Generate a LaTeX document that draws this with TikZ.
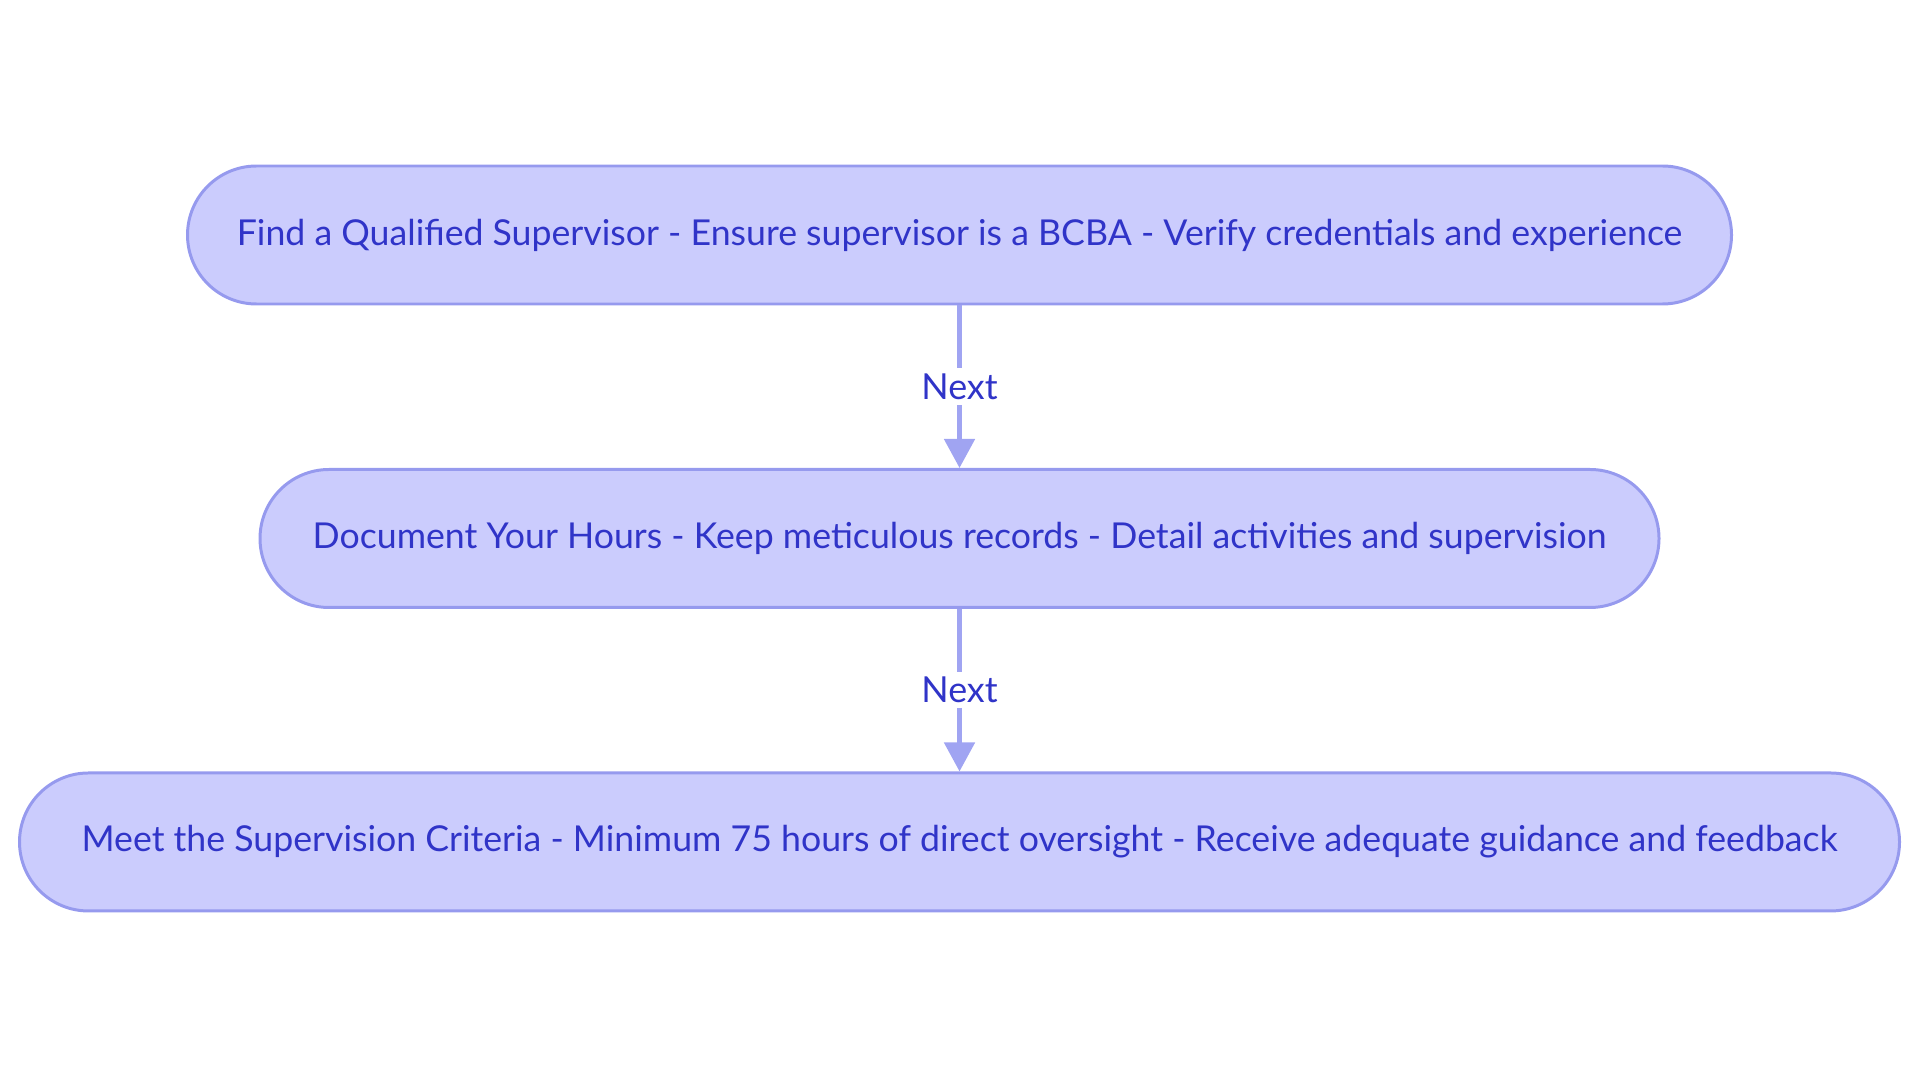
\documentclass[tikz,border=0pt]{standalone}
\usepackage{fontspec}
\setmainfont{Lato}
\usetikzlibrary{positioning,arrows.meta}
\definecolor{stepfill}{RGB}{203,204,253}
\definecolor{stepline}{RGB}{150,154,238}
\definecolor{steptext}{RGB}{48,52,200}
\definecolor{linkline}{RGB}{160,164,242}
\tikzset{
  stepnode/.style={draw=stepline, line width=0.85pt, fill=stepfill, text=steptext,
    rounded corners=0.69cm, minimum height=1.38cm, inner sep=0pt,
    font=\fontsize{10.15}{12}\selectfont},
  link/.style={draw=linkline, line width=1.4pt, -{Triangle[length=2.9mm,width=3mm]}},
  linklabel/.style={fill=white, text=steptext, inner sep=1.5pt,
    font=\fontsize{10.2}{12}\selectfont}
}
\begin{document}
\begin{tikzpicture}[node distance=1.625cm]
      \useasboundingbox (0,0) rectangle (19.2,-10.83);
      \node[stepnode, minimum width=15.44cm] (find) at (9.595,-2.35)
        {Find a Qualified Supervisor - Ensure supervisor is a BCBA - Verify credentials and experience};
      \node[stepnode, minimum width=13.99cm, below=of find] (document)
        {Document Your Hours - Keep meticulous records - Detail activities and supervision};
      \node[stepnode, minimum width=18.8cm, below=of document] (meet)
        {Meet the Supervision Criteria - Minimum 75 hours of direct oversight - Receive adequate guidance and feedback};
      \begin{scope}[link]
        \draw (find) to node[linklabel] (next1) {Next} (document);
        \draw (document) to node[linklabel] (next2) {Next} (meet);
      \end{scope}
    \end{tikzpicture}
\end{document}
